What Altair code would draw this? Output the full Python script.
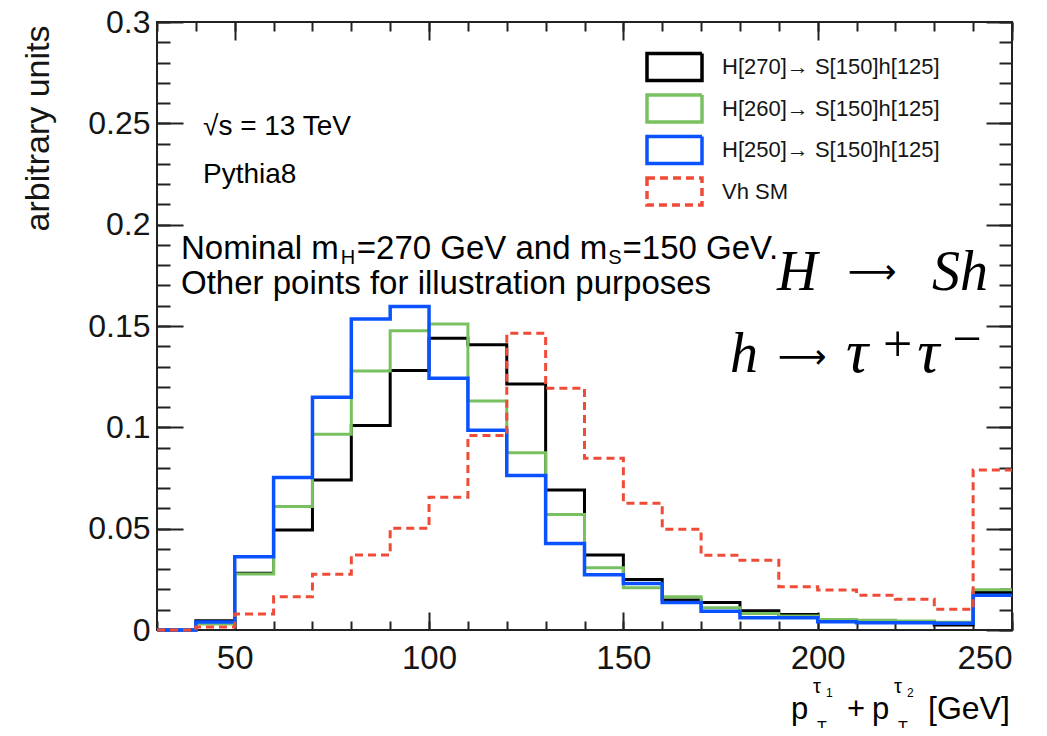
import altair as alt
import pandas as pd

# ---------------- data ----------------
BIN_EDGES = [30, 40, 50, 60, 70, 80, 90, 100, 110, 120, 130, 140, 150, 160,
             170, 180, 190, 200, 210, 220, 230, 240, 250]
SERIES = ["H[270]\u2192 S[150]h[125]", "H[260]\u2192 S[150]h[125]",
          "H[250]\u2192 S[150]h[125]", "Vh SM"]
H270 = [0, 0.0046, 0.028, 0.0494, 0.074, 0.1009, 0.128, 0.144, 0.1407, 0.1214,
        0.0691, 0.037, 0.0249, 0.0148, 0.0136, 0.0095, 0.0077, 0.0049, 0.0044,
        0.004, 0.0025, 0.0185]
H260 = [0, 0.003, 0.0276, 0.0609, 0.0966, 0.1278, 0.1476, 0.151, 0.113, 0.0875,
        0.057, 0.0307, 0.0208, 0.0164, 0.011, 0.0082, 0.0069, 0.0052, 0.0048,
        0.0044, 0.0038, 0.0198]
H250 = [0, 0.004, 0.0362, 0.0752, 0.1148, 0.1535, 0.1596, 0.1242, 0.0985, 0.0762,
        0.0427, 0.0273, 0.023, 0.0136, 0.0093, 0.0061, 0.0061, 0.0041, 0.0036,
        0.0036, 0.0033, 0.0172]
VH_SM = [0, 0.0015, 0.0079, 0.0164, 0.0275, 0.037, 0.0502, 0.0655, 0.096, 0.1464,
         0.1193, 0.0848, 0.0626, 0.0497, 0.0369, 0.0344, 0.0213, 0.0197, 0.0172,
         0.0152, 0.0102, 0.079]
VALUES = [H270, H260, H250, VH_SM]

X_MAJOR = [50, 100, 150, 200, 250]
X_MINOR = list(range(30, 251, 10))
Y_MAJOR = [0, 0.05, 0.1, 0.15, 0.2, 0.25, 0.3]
Y_MINOR = [round(i * 0.01, 2) for i in range(31)]

# ---------------- styles ----------------
COLORS = ["#000000", "#79c160", "#0a52ff", "#f04b37"]
DASHES = [[1, 0], [1, 0], [1, 0], [8, 5]]
WIDTHS = [3, 3, 3.5, 3]
SANS = "Liberation Sans"
SERIF = "Liberation Serif"
ARROW = "DejaVu Sans"
INK = "#151515"

rows = []
for name, vals in zip(SERIES, VALUES):
    for e, v in zip(BIN_EDGES[:-1], vals):
        rows.append({"series": name, "x": e, "y": v})
    rows.append({"series": name, "x": BIN_EDGES[-1], "y": vals[-1]})
df = pd.DataFrame(rows)

xs = alt.Scale(domain=[30, 250], nice=False, zero=False)
ys = alt.Scale(domain=[0, 0.3], nice=False, zero=False)

legend = alt.Legend(
    orient="none", legendX=488, legendY=28, title=None,
    labelFont=SANS, labelFontSize=22, labelColor=INK, labelLimit=400,
    symbolType="M-1,-0.49L1,-0.49L1,0.49L-1,0.49Z", symbolSize=3025,
    symbolStrokeWidth=3.5, symbolFillColor="transparent",
    clipHeight=34, rowPadding=7.5, labelOffset=18, padding=0,
)


def tick_axis(orient, values, size, labels=False, **kw):
    return alt.Axis(orient=orient, values=values, tickSize=size, offset=-size,
                    domain=False, grid=False, labels=labels, tickColor="#222",
                    tickWidth=2, **kw)


x_bottom_major = tick_axis("bottom", X_MAJOR, 18, labels=True, format="d",
                           labelFontSize=33, labelPadding=12, labelFont=SANS,
                           labelColor=INK, labelOverlap=False, title=None)
y_left_major = tick_axis("left", Y_MAJOR, 26, labels=True, format="~g",
                         labelFontSize=32, labelPadding=7, labelFont=SANS,
                         labelColor=INK, labelOverlap=False,
                         title="arbitrary units", titleFont=SANS, titleFontSize=34,
                         titleFontWeight="normal", titleColor=INK, titleX=-135,
                         titleY=3, titleAlign="right", titleAngle=270,
                         titleBaseline="alphabetic")

hist_layers = []
for i, name in enumerate(SERIES):
    first = i == 0
    hist_layers.append(
        alt.Chart(df)
        .transform_filter(alt.datum.series == name)
        .mark_line(interpolate="step-after", strokeWidth=WIDTHS[i],
                   strokeCap="butt", strokeJoin="miter")
        .encode(
            x=alt.X("x:Q", scale=xs, axis=x_bottom_major if first else None),
            y=alt.Y("y:Q", scale=ys, axis=y_left_major if first else None),
            color=alt.Color("series:N", scale=alt.Scale(domain=SERIES, range=COLORS),
                            legend=legend),
            strokeDash=alt.StrokeDash("series:N",
                                      scale=alt.Scale(domain=SERIES, range=DASHES),
                                      legend=legend),
        )
    )

frame_df = pd.DataFrame({"x": [30, 250], "y": [0, 0.3]})


def tick_layer(xaxis, yaxis):
    return alt.Chart(frame_df).mark_point(opacity=0).encode(
        x=alt.X("x:Q", scale=xs, axis=xaxis),
        y=alt.Y("y:Q", scale=ys, axis=yaxis),
    )


ticks = [
    tick_layer(tick_axis("bottom", X_MINOR, 9, title=None),
               tick_axis("left", Y_MINOR, 13, title=None)),
    tick_layer(tick_axis("top", X_MAJOR, 18, title=None),
               tick_axis("right", Y_MAJOR, 26, title=None)),
    tick_layer(tick_axis("top", X_MINOR, 9, title=None),
               tick_axis("right", Y_MINOR, 13, title=None)),
]

# ---------------- annotations (text, x, y, size, font, style, align) -----------
ANNOT = [
    ("\u221as = 13 TeV", 41.84, 0.2442, 28, SANS, "normal", "left"),
    ("Pythia8", 41.84, 0.2206, 28, SANS, "normal", "left"),
    ("Nominal m", 36.18, 0.1831, 33, SANS, "normal", "left"),
    ("H", 77.3, 0.1806, 20, SANS, "normal", "left"),
    ("=270 GeV and m", 81.4, 0.1831, 33, SANS, "normal", "left"),
    ("S", 146.1, 0.1806, 20, SANS, "normal", "left"),
    ("=150 GeV.", 149.8, 0.1831, 33, SANS, "normal", "left"),
    ("Other points for illustration purposes", 36.18, 0.1658, 33, SANS, "normal", "left"),
    ("p", 193.13, -0.0439, 31, SANS, "normal", "left"),
    ("T", 199.82, -0.0508, 16, SANS, "normal", "left"),
    ("\u03c4", 198.79, -0.0311, 20, SANS, "normal", "left"),
    ("1", 202.14, -0.0331, 12, SANS, "normal", "left"),
    ("+", 207.54, -0.0439, 31, SANS, "normal", "left"),
    ("p", 213.98, -0.0439, 31, SANS, "normal", "left"),
    ("T", 220.67, -0.0508, 16, SANS, "normal", "left"),
    ("\u03c4", 219.64, -0.0311, 20, SANS, "normal", "left"),
    ("2", 222.98, -0.0331, 12, SANS, "normal", "left"),
    ("[GeV]", 228.39, -0.0439, 32, SANS, "normal", "left"),
    ("H", 189.53, 0.1678, 56, SERIF, "italic", "left"),
    ("\u27f6", 213.98, 0.1712, 34, ARROW, "normal", "center"),
    ("Sh", 243.83, 0.1678, 56, SERIF, "italic", "right"),
    ("h", 177.44, 0.1273, 56, SERIF, "italic", "left"),
    ("\u27f6", 196.0, 0.1293, 34, ARROW, "normal", "center"),
    ("\u03c4", 207.3, 0.1273, 62, SERIF, "italic", "left"),
    ("+", 220.6, 0.1327, 52, SERIF, "normal", "center"),
    ("\u03c4", 225.6, 0.1273, 62, SERIF, "italic", "left"),
    ("\u2212", 238.42, 0.1352, 52, SERIF, "normal", "center"),
]
ann = pd.DataFrame(ANNOT, columns=["text", "x", "y", "size", "font", "style", "align"])

text_layers = []
for (font, style, align), g in ann.groupby(["font", "style", "align"]):
    text_layers.append(
        alt.Chart(g.reset_index(drop=True))
        .mark_text(font=font, fontStyle=style, align=align, baseline="alphabetic",
                   color="#000000")
        .encode(
            x=alt.X("x:Q", scale=xs, axis=None),
            y=alt.Y("y:Q", scale=ys, axis=None),
            text="text:N",
            size=alt.Size("size:Q", scale=None, legend=None),
        )
    )

chart = (
    alt.layer(*ticks, *hist_layers, *text_layers)
    .resolve_axis(x="independent", y="independent")
    .properties(
        width=855,
        height=608,
        padding={"left": 149, "top": 14, "right": 25, "bottom": 98},
        autosize=alt.AutoSizeParams(type="none"),
        background="white",
    )
    .configure_view(stroke="#222", strokeWidth=2)
)

chart.save("out.html", embed_options={"renderer": "svg", "actions": False})
